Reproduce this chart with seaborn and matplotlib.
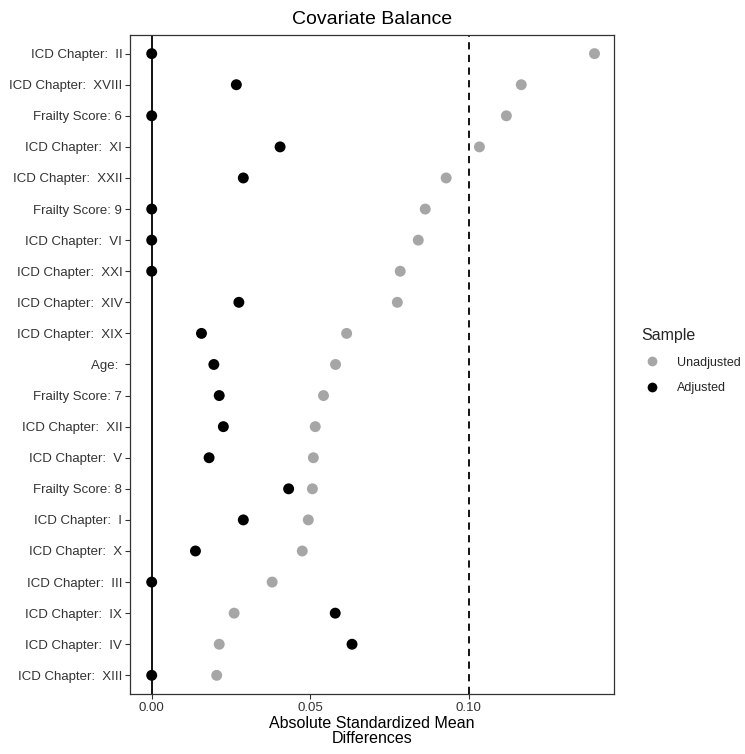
import matplotlib
matplotlib.use("Agg")
import matplotlib.pyplot as plt
import seaborn as sns
import pandas as pd
from matplotlib.lines import Line2D

covariates = [
    "ICD Chapter:  II", "ICD Chapter:  XVIII", "Frailty Score: 6", "ICD Chapter:  XI",
    "ICD Chapter:  XXII", "Frailty Score: 9", "ICD Chapter:  VI", "ICD Chapter:  XXI",
    "ICD Chapter:  XIV", "ICD Chapter:  XIX", "Age: ", "Frailty Score: 7",
    "ICD Chapter:  XII", "ICD Chapter:  V", "Frailty Score: 8", "ICD Chapter:  I",
    "ICD Chapter:  X", "ICD Chapter:  III", "ICD Chapter:  IX", "ICD Chapter:  IV",
    "ICD Chapter:  XIII",
]
unadjusted = [0.1397, 0.1166, 0.1119, 0.1034, 0.0929, 0.0863, 0.0841, 0.0784, 0.0775,
              0.0615, 0.0580, 0.0542, 0.0516, 0.0510, 0.0507, 0.0494, 0.0475, 0.0380,
              0.0260, 0.0213, 0.0205]
adjusted = [0.0, 0.0267, 0.0, 0.0405, 0.0289, 0.0, 0.0, 0.0, 0.0275,
            0.0157, 0.0196, 0.0213, 0.0226, 0.0181, 0.0432, 0.0289, 0.0138, 0.0,
            0.0579, 0.0632, 0.0]
samples = ["Unadjusted", "Adjusted"]
sample_colors = ["#A6A6A6", "#000000"]
threshold = 0.10
x_ticks = [0.00, 0.05, 0.10]

df = pd.DataFrame({
    "Covariate": covariates * 2,
    "SMD": unadjusted + adjusted,
    "Sample": [samples[0]] * len(covariates) + [samples[1]] * len(covariates),
})
df["Covariate"] = pd.Categorical(df["Covariate"], categories=covariates, ordered=True)

sns.set_theme(style="white")
plt.rcParams["font.family"] = ["Liberation Sans", "DejaVu Sans"]

fig = plt.figure(figsize=(7.45, 7.54), dpi=100)
ax = fig.add_axes([0.1745, 0.0796, 0.649, 0.874])

ax.axvline(0, color="black", lw=1.3, zorder=1)
ax.axvline(threshold, color="black", lw=1.3, ls=(0, (4, 3)), zorder=1)

ypos = {c: i for i, c in enumerate(covariates)}
df["y"] = df["Covariate"].map(ypos).astype(float)

sns.scatterplot(data=df, x="SMD", y="y", hue="Sample", hue_order=samples,
                palette=sample_colors, s=62, edgecolor="none", ax=ax,
                legend=False, zorder=3)

ax.set_ylim(len(covariates) - 1 + 0.6, -0.6)
ax.set_yticks(range(len(covariates)))
ax.set_yticklabels(covariates)
ax.set_xlim(-0.00685, 0.1457)
ax.set_xticks(x_ticks)
ax.set_xticklabels([f"{t:.2f}" for t in x_ticks])

ax.tick_params(axis="both", which="both", length=3.5, width=0.8, color="#333333",
               labelsize=9.5, labelcolor="#333333", pad=2,
               left=True, bottom=True)
for sp in ax.spines.values():
    sp.set_color("#333333")
    sp.set_linewidth(0.9)

ax.set_ylabel("")
ax.set_xlabel("Absolute Standardized Mean\nDifferences", fontsize=11.5,
              color="black", labelpad=2, linespacing=0.95)
ax.set_title("Covariate Balance", fontsize=14, color="black", pad=8)

handles = [Line2D([0], [0], marker="o", ls="", markersize=7,
                  markerfacecolor=c, markeredgecolor="none") for c in sample_colors]
leg = ax.legend(handles, samples, title="Sample", loc="center left",
                bbox_to_anchor=(1.042, 0.505), frameon=False, fontsize=9,
                title_fontsize=11.5, handletextpad=1.15, handlelength=1.7,
                labelspacing=1.1, alignment="left", borderaxespad=0.2)

fig.savefig("out.png", dpi=100)
